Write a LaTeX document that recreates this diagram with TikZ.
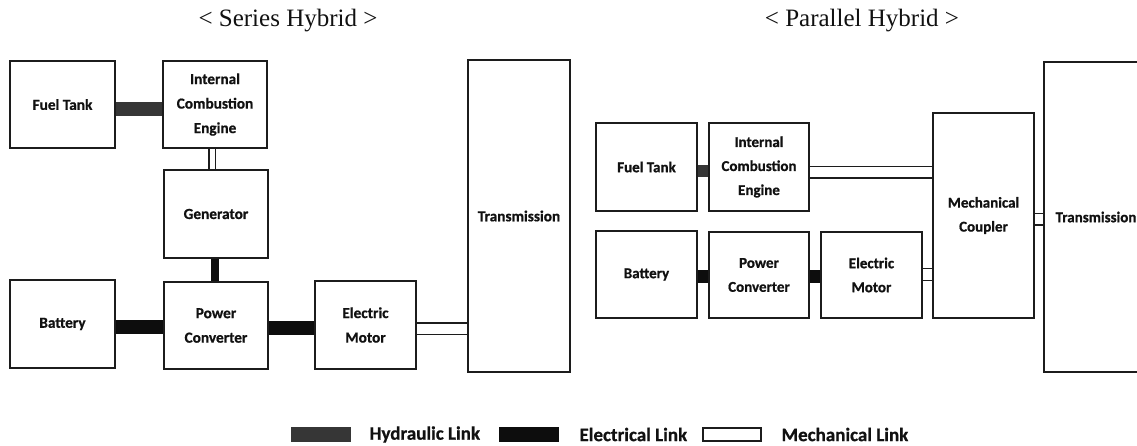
\documentclass[tikz,border=0pt]{standalone}
\usepackage{fontspec}
\setmainfont{Liberation Serif}
\newfontfamily\boxfont{Carlito}[BoldFeatures={FakeBold=0.8}]
\usetikzlibrary{backgrounds}
\definecolor{boxc}{HTML}{1C1C1C}
\definecolor{txtc}{HTML}{111111}
\definecolor{hydc}{HTML}{363636}
\definecolor{elecc}{HTML}{0D0D0D}
\begin{document}
\begin{tikzpicture}[x=1pt,y=-1pt,
  box/.style={draw=boxc, line width=1.8pt, inner sep=0pt, outer sep=0pt, align=center,
    text=txtc, font=\boxfont\bfseries\fontsize{15.3}{24.5}\selectfont},
  pbox/.style={box, font=\boxfont\bfseries\fontsize{15}{24}\selectfont},
  hydlink/.style={draw=hydc, line width=#1},
  eleclink/.style={draw=elecc, line width=#1},
  mechlink/.style={draw=boxc, line width=1.7pt, double=white, double distance=#1},
  title/.style={font=\fontsize{25}{28}\selectfont, text=txtc},
  legtext/.style={anchor=west, text=txtc, font=\boxfont\bfseries\fontsize{19}{22}\selectfont},
  swatch/.style={inner sep=0pt, outer sep=0pt, minimum width=60pt, minimum height=15pt}
]
\useasboundingbox (0,0) rectangle (1137,446);

% titles
\node[title] (t1) at (288,21) {< Series Hybrid >};
\node[title] (t2) at (862,21) {< Parallel Hybrid >};

% ---------------- series hybrid ----------------
\node[box, minimum width=105pt, minimum height=87pt] (sft) at (62.5,104.5) {Fuel Tank};
\node[box, minimum width=104pt, minimum height=87pt] (sice) at (215,104.5) {Internal\\Combustion\\Engine};
\node[box, minimum width=104pt, minimum height=88pt] (sgen) at (216,214) {Generator};
\node[box, minimum width=104pt, minimum height=87pt] (spc) at (216,325.5) {Power\\Converter};
\node[box, minimum width=105pt, minimum height=88pt] (sbat) at (62.5,324) {Battery};
\node[box, minimum width=101pt, minimum height=88pt] (sem) at (365.5,325) {Electric\\Motor};
\node[box, minimum width=102pt, minimum height=312pt] (strans) at (519,216) {Transmission};

% ---------------- parallel hybrid ----------------
\node[pbox, minimum width=101pt, minimum height=88pt] (pft) at (646.5,167) {Fuel Tank};
\node[pbox, minimum width=100pt, minimum height=88pt] (pice) at (759,167) {Internal\\Combustion\\Engine};
\node[pbox, minimum width=101pt, minimum height=87pt] (pbat) at (646.5,274.5) {Battery};
\node[pbox, minimum width=100pt, minimum height=86pt] (ppc) at (759,275) {Power\\Converter};
\node[pbox, minimum width=101pt, minimum height=86pt] (pem) at (871.5,275) {Electric\\Motor};
\node[pbox, minimum width=101pt, minimum height=205pt] (pcoup) at (983.5,215.5) {Mechanical\\Coupler};
\node[pbox, minimum width=104pt, minimum height=310pt] (ptrans) at (1096,217) {Transmission};

% link anchor points
\coordinate (sm1) at ([yshift=-3.5pt]sem.east);
\coordinate (pm1) at ([yshift=-5.5pt]pice.east);
\coordinate (pm2) at ([yshift=0.5pt]pem.east);
\coordinate (pm3) at ([yshift=-4pt]pcoup.east);

% ---------------- links (behind boxes) ----------------
\begin{scope}[on background layer]
  \draw[hydlink=14pt] ([yshift=-4.5pt]sft.east) -- ([yshift=-4.5pt]sice.west);
  \draw[mechlink=5pt] ([xshift=-3pt]sice.south) -- ([xshift=-4pt]sgen.north);
  \draw[eleclink=8pt] ([xshift=-1pt]sgen.south) -- ([xshift=-1pt]spc.north);
  \draw[eleclink=14pt] ([yshift=-3pt]sbat.east) -- ([yshift=-1.5pt]spc.west);
  \draw[eleclink=14pt] ([yshift=-2.5pt]spc.east) -- ([yshift=-3pt]sem.west);
  \draw[mechlink=10pt] (sm1) -- (strans.west |- sm1);

  \draw[hydlink=12pt] ([yshift=-4pt]pft.east) -- ([yshift=-4pt]pice.west);
  \draw[mechlink=10pt] (pm1) -- (pcoup.west |- pm1);
  \draw[eleclink=13pt] ([yshift=-2pt]pbat.east) -- ([yshift=-1.5pt]ppc.west);
  \draw[eleclink=13pt] ([yshift=-1.5pt]ppc.east) -- ([yshift=-1.5pt]pem.west);
  \draw[mechlink=10pt] (pm2) -- (pcoup.west |- pm2);
  \draw[mechlink=10pt] (pm3) -- (ptrans.west |- pm3);
\end{scope}

% ---------------- legend ----------------
\node[swatch, fill=hydc] (lh) at (321,434.5) {};
\node[legtext] (lht) at (366,434.5) {Hydraulic Link};
\node[swatch, fill=elecc] (le) at (528.5,434.5) {};
\node[legtext] (let) at (576,434.5) {Electrical Link};
\node[swatch, draw=boxc, line width=1.8pt, fill=white, minimum width=58pt, minimum height=13pt] (lm) at (732,434.5) {};
\node[legtext] (lmt) at (778,434.5) {Mechanical Link};
\end{tikzpicture}
\end{document}
